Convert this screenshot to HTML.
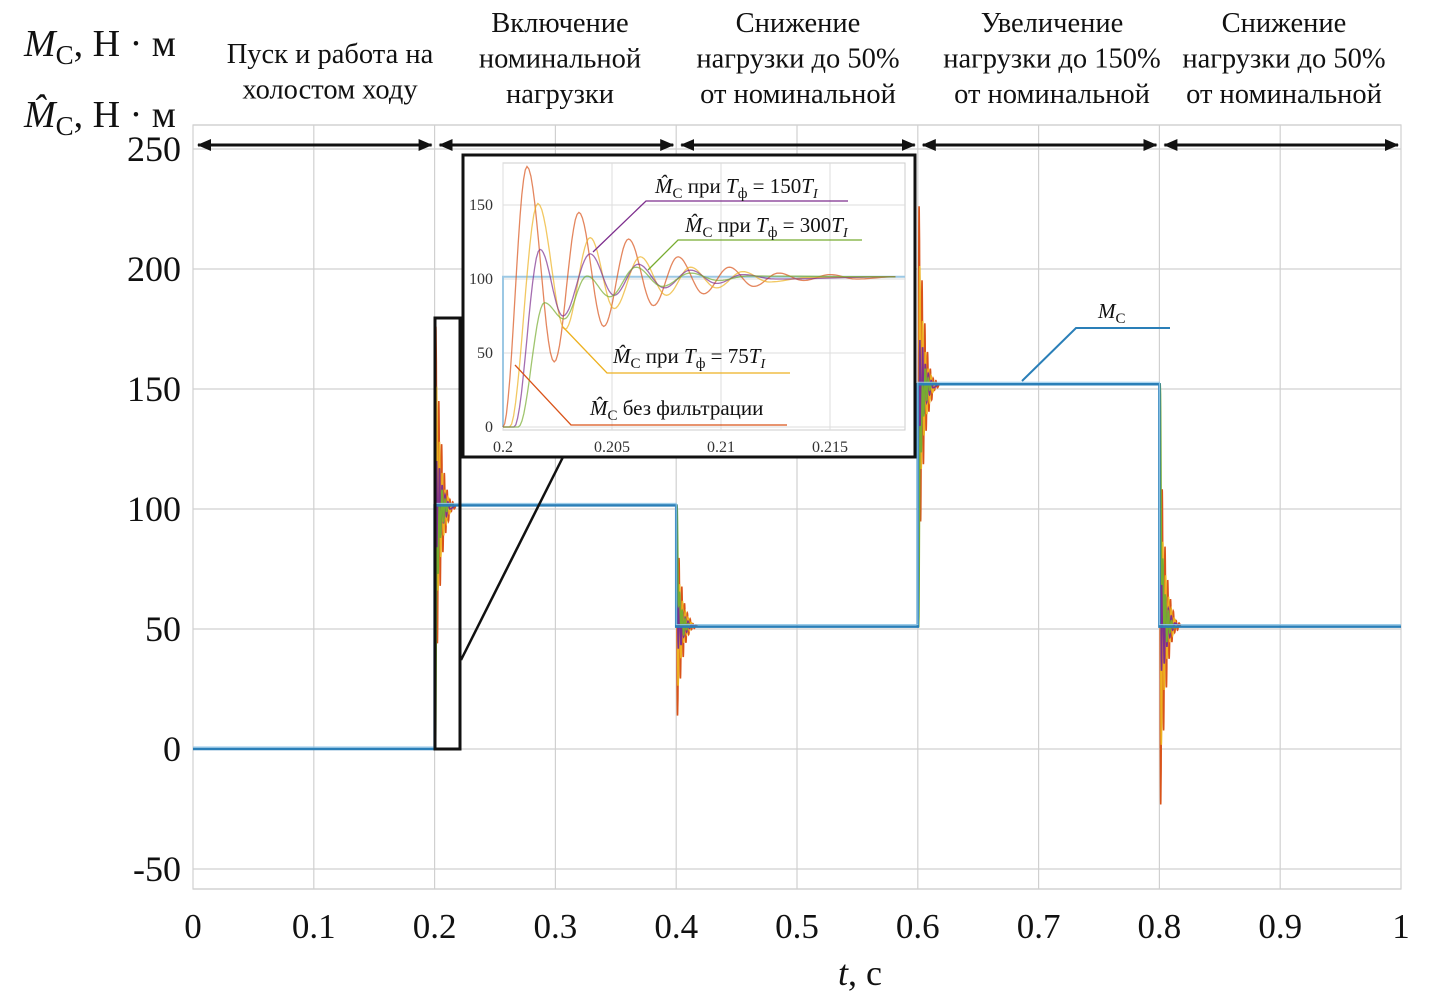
<!DOCTYPE html>
<html><head><meta charset="utf-8">
<style>
html,body{margin:0;padding:0;background:#fff;}
svg{display:block;font-family:"Liberation Serif",serif;}
</style></head>
<body>
<svg id="chart" width="1437" height="1006" viewBox="0 0 1437 1006" xmlns="http://www.w3.org/2000/svg"></svg>
<script>
// ---- data ----
const xTicks = [0,0.1,0.2,0.3,0.4,0.5,0.6,0.7,0.8,0.9,1];
const xTickLabels = ["0","0.1","0.2","0.3","0.4","0.5","0.6","0.7","0.8","0.9","1"];
const yTicks = [-50,0,50,100,150,200,250];
const yTickLabels = ["-50","0","50","100","150","200","250"];
const stepTimes = [0,0.2,0.4,0.6,0.8,1];
const stepLevels = [0,101.5,51,152,51];
const insetXTicks = [0.2,0.205,0.21,0.215];
const insetXTickLabels = ["0.2","0.205","0.21","0.215"];
const insetYTicks = [0,50,100,150];
const insetYTickLabels = ["0","50","100","150"];
// extrema of estimated torque responses (inset, step 0 -> 101.5)
const orangeT = [0.2,0.2011,0.20235,0.20348,0.20462,0.20576,0.2069,0.20803,0.2092,0.21038,0.2115,0.21265,0.2138,0.215,0.2162,0.218];
const orangeV = [0,176,44,145,68,127,82,115,90,108,95,104,99,103,100,101.5];
const yellowT = [0.2003,0.2016,0.20285,0.204,0.2051,0.2063,0.2075,0.2086,0.2098,0.211,0.2122,0.214,0.218];
const yellowV = [0,151,66,128,80,115,89,108,94,105,98,101,101.5];
const purpleT = [0.2005,0.2017,0.20275,0.204,0.2051,0.2062,0.2074,0.2086,0.2098,0.211,0.2125,0.218];
const purpleV = [0,120,75,117,89,110,94,106,97,103,100,101.5];
const greenT = [0.2007,0.2019,0.2028,0.20385,0.2049,0.2061,0.2073,0.2086,0.2099,0.2112,0.218];
const greenV = [0,84,73,102,88,108,95,104,99,102,101.5];
const finalLevel = 101.5;

const NS="http://www.w3.org/2000/svg";
const svg=document.getElementById('chart');
function mk(tag,attrs,parent){const e=document.createElementNS(NS,tag);for(const k in attrs)e.setAttribute(k,attrs[k]);(parent||svg).appendChild(e);return e;}

const X0=193,X1=1401,YT=125,YB=889;
const sx=t=>X0+(X1-X0)*t;
const sy=v=>749-2.4*v;
const IX0=503,IX1=905,IYT=163,IYB=430;
const isx=t=>503+(t-0.2)*21800;
const isy=v=>427-1.48*v;

// header texts
const hdr=[[330,["Пуск и работа на","холостом ходу"],63],[560,["Включение","номинальной","нагрузки"],32],[798,["Снижение","нагрузки до 50%","от номинальной"],32],[1052,["Увеличение","нагрузки до 150%","от номинальной"],32],[1284,["Снижение","нагрузки до 50%","от номинальной"],32]];
hdr.forEach((h,i)=>{h[1].forEach((s,j)=>{const t=mk('text',{x:h[0],y:h[2]+j*35.5,'text-anchor':'middle','font-size':'28.5',fill:'#111'});t.textContent=s;

});});
// y labels
let yl=mk('text',{x:24,y:56,'font-size':'38',fill:'#111'});
yl.innerHTML='<tspan font-style="italic">M</tspan><tspan font-size="27" dy="8">C</tspan><tspan dy="-8">, Н · м</tspan>';


let yl2=mk('text',{x:24,y:127,'font-size':'38',fill:'#111'});
yl2.innerHTML='<tspan font-style="italic">M̂</tspan><tspan font-size="27" dy="8">C</tspan><tspan dy="-8">, Н · м</tspan>';



// plot frame + grid
mk('rect',{x:X0,y:YT,width:X1-X0,height:YB-YT,fill:'#fff',stroke:'#bbb','stroke-width':1});
xTicks.forEach((t,i)=>{const l=mk('line',{x1:sx(t),x2:sx(t),y1:YT,y2:YB,stroke:'#d0d0d0','stroke-width':1.2});


const tx=mk('text',{x:sx(t),y:938,'text-anchor':'middle','font-size':'35',fill:'#111'});tx.textContent=xTickLabels[i];

});
yTicks.forEach((v,i)=>{const l=mk('line',{x1:X0,x2:X1,y1:sy(v),y2:sy(v),stroke:'#d0d0d0','stroke-width':1.2});


const tx=mk('text',{x:181,y:sy(v)+12,'text-anchor':'end','font-size':'36',fill:'#111'});tx.textContent=yTickLabels[i];

});
let xt=mk('text',{x:860,y:985,'text-anchor':'middle','font-size':'36',fill:'#111'});
xt.innerHTML='<tspan font-style="italic">t</tspan>,  с';



// arrows
const defs=mk('defs',{});
const mA2=mk('marker',{id:'ah2',markerWidth:14,markerHeight:12,refX:13,refY:6,orient:'auto-start-reverse',markerUnits:'userSpaceOnUse'},defs);
mk('path',{d:'M0,0 L14,6 L0,12 z',fill:'#111'},mA2);
for(let i=0;i<5;i++){const a=mk('line',{x1:sx(stepTimes[i])+5,x2:sx(stepTimes[i+1])-3,y1:145,y2:145,stroke:'#111','stroke-width':3,'marker-start':'url(#ah2)','marker-end':'url(#ah2)'});

}

function curve(T,V,mapX,mapY){const pts=[];for(let i=0;i<T.length-1;i++){const n=14;for(let k=0;k<n;k++){const f=k/n;const w=(1-Math.cos(Math.PI*f))/2;pts.push([mapX(T[i]+(T[i+1]-T[i])*f),mapY(V[i]+(V[i+1]-V[i])*w)]);}}pts.push([mapX(T[T.length-1]),mapY(V[V.length-1])]);return pts;}
const ser=[[orangeT,orangeV,'#D95319','orange'],[yellowT,yellowV,'#EDB120','yellow'],[purpleT,purpleV,'#7E2F8E','purple'],[greenT,greenV,'#77AC30','green']];
function ptsStr(p){return p.map(q=>q[0].toFixed(1)+','+q[1].toFixed(1)).join(' ');}
for(let s=0;s<4;s++){const [T,V,c,n]=ser[s];
 for(let k=1;k<5;k++){const a=stepLevels[k-1],b=stepLevels[k],ts=stepTimes[k];
  const p=curve(T,V,t=>sx(ts+(t-0.2)),v=>sy(a+(b-a)*v/finalLevel));
  p.unshift([sx(ts),sy(a)]);
  const pl=mk('polyline',{points:ptsStr(p),fill:'none',stroke:c,'stroke-width':1.6});
  
  
 }
}
let bp=[[sx(0),sy(stepLevels[0])]];
for(let k=0;k<stepLevels.length;k++){bp.push([sx(stepTimes[k]),sy(stepLevels[k])]);bp.push([sx(stepTimes[k+1]),sy(stepLevels[k])]);}
const blue=mk('polyline',{points:ptsStr(bp),fill:'none',stroke:'#2a7fb8','stroke-width':2.5});


mk('polyline',{points:ptsStr(bp),fill:'none',stroke:'#8fc6e8','stroke-width':1,transform:'translate(0,-2)'});

const zr=mk('rect',{x:435,y:318,width:25,height:431,fill:'none',stroke:'#111','stroke-width':3});


mk('line',{x1:461,y1:660,x2:563,y2:457,stroke:'#111','stroke-width':2.5});

mk('polyline',{points:'1022,381 1076,328 1170,328',fill:'none',stroke:'#2a7fb8','stroke-width':2});
let mcl=mk('text',{x:1098,y:318,'font-size':'21',fill:'#111'});
mcl.innerHTML='<tspan font-style="italic">M</tspan><tspan font-size="15" dy="5">C</tspan>';



const ig=mk('g',{});


mk('rect',{x:463,y:155,width:452,height:302,fill:'#fff',stroke:'none'},ig);
mk('rect',{x:IX0,y:IYT,width:IX1-IX0,height:IYB-IYT,fill:'#fff',stroke:'#ccc','stroke-width':1},ig);
insetXTicks.forEach((t,i)=>{mk('line',{x1:isx(t),x2:isx(t),y1:IYT,y2:IYB,stroke:'#ddd','stroke-width':1},ig);
const tx=mk('text',{x:isx(t),y:452,'text-anchor':'middle','font-size':'16',fill:'#333'},ig);tx.textContent=insetXTickLabels[i];

});
insetYTicks.forEach((v,i)=>{mk('line',{x1:IX0,x2:IX1,y1:isy(v),y2:isy(v),stroke:'#ddd','stroke-width':1},ig);
const tx=mk('text',{x:493,y:isy(v)+5,'text-anchor':'end','font-size':'16',fill:'#333'},ig);tx.textContent=insetYTickLabels[i];

});
mk('polyline',{points:ptsStr([[isx(0.2),isy(0)],[isx(0.2),isy(finalLevel)],[IX1,isy(finalLevel)]]),fill:'none',stroke:'#9cc8e4','stroke-width':2},ig);
for(let s=0;s<4;s++){const [T,V,c,n]=ser[s];
 const p=curve(T,V,isx,isy);p.unshift([isx(0.2),isy(0)]);
 const pl=mk('polyline',{points:ptsStr(p),fill:'none',stroke:c,'stroke-width':1.3,'stroke-opacity':0.7},ig);
 
 }
mk('rect',{x:463,y:155,width:452,height:302,fill:'none',stroke:'#111','stroke-width':3},ig);
const ann=[['593,252 646,201 848,201','#7E2F8E',655,193,'при ','150'],['648,270 678,240 862,240','#77AC30',685,232,' при ','300'],['563,327 607,373 790,373','#EDB120',613,363,'при ','75'],['515,365 571,425 787,425','#D95319',590,415,null,null]];
ann.forEach(a=>{mk('polyline',{points:a[0],fill:'none',stroke:a[1],'stroke-width':1.3},ig);
 const t=mk('text',{x:a[2],y:a[3],'font-size':'21',fill:'#111'},ig);
 if(a[4]) t.innerHTML='<tspan font-style="italic">M̂</tspan><tspan font-size="15" dy="5">C</tspan><tspan dy="-5"> '+a[4]+'</tspan><tspan font-style="italic">T</tspan><tspan font-size="15" dy="5">ф</tspan><tspan dy="-5"> = '+a[5]+'</tspan><tspan font-style="italic">T</tspan><tspan font-size="14" font-style="italic" dy="5">I</tspan>';
 else t.innerHTML='<tspan font-style="italic">M̂</tspan><tspan font-size="15" dy="5">C</tspan><tspan dy="-5"> без фильтрации</tspan>';
 
 });
</script>
</body></html>
